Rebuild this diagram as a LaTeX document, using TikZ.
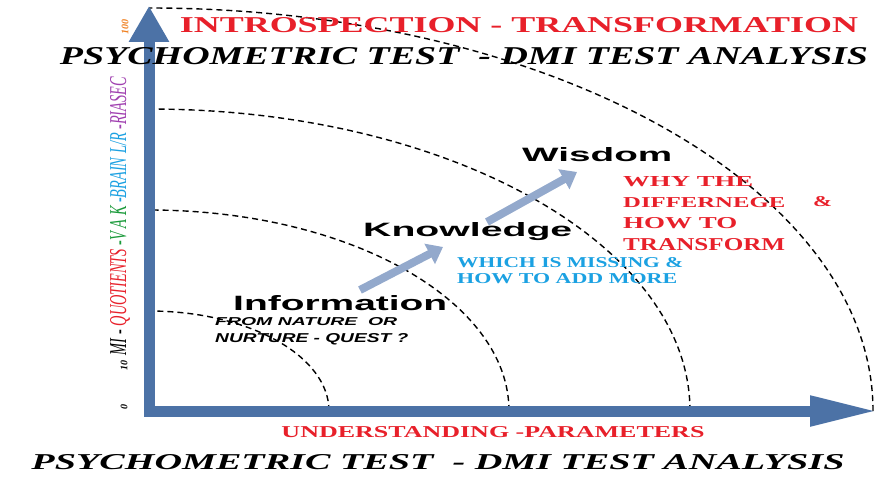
\documentclass[tikz,border=0pt]{standalone}
\usepackage{fontspec}
\usepackage{graphicx}
\setmainfont{Liberation Serif}
\newfontfamily\arialfont{Liberation Sans}
\usetikzlibrary{arrows.meta}

\definecolor{titlered}{HTML}{E8202A}
\definecolor{axisblue}{HTML}{4C72A6}
\definecolor{growblue}{HTML}{93A9CC}
\definecolor{skyblue}{HTML}{1BA1E2}
\definecolor{vakgreen}{HTML}{1A9A3A}
\definecolor{riapurple}{HTML}{A040B0}
\definecolor{scaleorange}{HTML}{F08020}

% stretch a text to a given width and height (in pt)
\newcommand{\fitbox}[3]{\resizebox{#1pt}{#2pt}{#3}}

\tikzset{
  txt/.style={inner sep=0pt, anchor=base west},
  word/.style={txt, font=\arialfont\bfseries},
  ringline/.style={line width=1.4pt, dash pattern=on 6pt off 4pt},
  axisline/.style={draw=axisblue, line width=11pt, line join=miter},
  growth/.style={draw=growblue, line width=8pt, -{Triangle[length=15pt,width=22pt]}},
  scalemark/.style={rotate=90, inner sep=0pt, font=\bfseries\itshape\fontsize{10}{10}\selectfont},
}

\begin{document}
\begin{tikzpicture}[x=1pt, y=1pt]
\fill[white] (0,0) rectangle (893,496);
\useasboundingbox (0,0) rectangle (893,496);

\coordinate (O) at (149,85);
\coordinate (ytip) at (149,490);
\coordinate (xtip) at (878,85);

% rings
\foreach \rx/\ry in {180/100, 360/201, 541/302, 724/403}
  \draw[ringline] (O) ++(\rx,0) arc[start angle=0, end angle=90, x radius=\rx, y radius=\ry];

% axes
\draw[axisline, {Triangle[length=36pt,width=38pt]}-{Triangle[length=68pt,width=28pt]}] (ytip) -- (O) -- (xtip);

% titles
\node[inner sep=0pt, text=titlered] (title) at (519,471) {\fitbox{678}{15}{\bfseries INTROSPECTION - TRANSFORMATION}};
\node[inner sep=0pt] (test) at (464,440) {\fitbox{808}{17}{\bfseries\itshape PSYCHOMETRIC TEST\ \ - DMI TEST ANALYSIS}};
\node[inner sep=0pt] (testbottom) at (438,34) {\fitbox{813}{15}{\bfseries\itshape PSYCHOMETRIC TEST\ \ - DMI TEST ANALYSIS}};
\node[inner sep=0pt, text=titlered] (xlabel) at (493,64) {\fitbox{423}{11}{\bfseries UNDERSTANDING -PARAMETERS}};

% vertical scale
\node[rotate=90, inner sep=0pt] (ylabel) at (120,280) {\fitbox{278}{16}{\itshape MI - \textcolor{titlered}{QUOTIENTS} \textcolor{vakgreen}{-V A K} \textcolor{skyblue}{-BRAIN L/R} \textcolor{riapurple}{-RIASEC}}};
\node[scalemark] (zero) at (124,89) {0};
\node[scalemark] (ten) at (124,131) {10};
\node[scalemark, text=scaleorange] (hundred) at (125,469) {100};

% steps
\node[word] (info) at (233,186) {\fitbox{214}{15}{Information}};
\node[word] (know) at (363,259) {\fitbox{209}{14}{Knowledge}};
\node[word] (wisdom) at (522,334) {\fitbox{150}{14}{Wisdom}};

\coordinate (g1s) at (360,206);
\coordinate (g1e) at (443,249);
\coordinate (g2s) at (487,274);
\coordinate (g2e) at (577,324);
\draw[growth] (g1s) -- (g1e);
\draw[growth] (g2s) -- (g2e);

% notes
\node[txt, font=\arialfont\bfseries\itshape] (nat1) at (215,171) {\fitbox{182}{8}{FROM NATURE\ \ OR}};
\node[txt, font=\arialfont\bfseries\itshape] (nat2) at (215,154) {\fitbox{193}{9}{NURTURE - QUEST ?}};

\node[txt, text=skyblue, font=\bfseries] (miss1) at (457,229) {\fitbox{226}{10}{WHICH IS MISSING \&}};
\node[txt, text=skyblue, font=\bfseries] (miss2) at (457,213) {\fitbox{220}{10}{HOW TO ADD MORE}};

\node[txt, text=titlered, font=\bfseries] (why1) at (623,309) {\fitbox{130}{10}{WHY THE}};
\node[txt, text=titlered, font=\bfseries] (why2) at (623,289) {\fitbox{162}{10}{DIFFERNEGE}};
\node[txt, text=titlered, font=\bfseries] (amp) at (813,289) {\fitbox{19}{10}{\&}};
\node[txt, text=titlered, font=\bfseries] (why3) at (623,268) {\fitbox{114}{11}{HOW TO}};
\node[txt, text=titlered, font=\bfseries] (why4) at (623,246) {\fitbox{162}{12}{TRANSFORM}};
\end{tikzpicture}
\end{document}
